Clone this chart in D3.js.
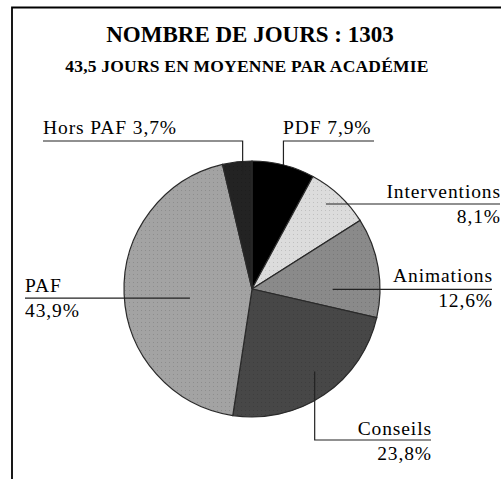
<!DOCTYPE html>
<html>
<head>
<meta charset="utf-8">
<script src="https://cdn.jsdelivr.net/npm/d3@7"></script>
<style>
  body { margin: 0; background: #fff; }
  svg { display: block; font-family: "Liberation Serif", "DejaVu Serif", serif; }
</style>
</head>
<body>
<div id="chart"></div>
<script>
// data, clockwise from 12 o'clock
const categories = ["PDF", "Interventions", "Animations", "Conseils", "PAF", "Hors PAF"];
const shares = [7.9, 8.1, 12.6, 23.8, 43.9, 3.7];
const shareLabels = ["7,9%", "8,1%", "12,6%", "23,8%", "43,9%", "3,7%"];
const fills = ["#000000", "#dcdcdc", "#8a8a8a", "#474747", "#a3a3a3", "#232323"];

const title = "NOMBRE DE JOURS : 1303";
const subtitle = "43,5 JOURS EN MOYENNE PAR ACADÉMIE";

const width = 501, height = 479;
const cx = 252, cy = 289, radius = 128;

const svg = d3.select("#chart").append("svg")
  .attr("width", width)
  .attr("height", height);

// frame (only top and left edges are visible)
svg.append("path")
  .attr("d", `M12,479 V7.5 H501`)
  .attr("fill", "none")
  .attr("stroke", "#000")
  .attr("stroke-width", 1.8);

svg.append("text")
  .attr("x", 250).attr("y", 42)
  .attr("text-anchor", "middle")
  .attr("font-size", 23).attr("font-weight", "bold")
  .text(title);

svg.append("text")
  .attr("x", 247).attr("y", 72)
  .attr("text-anchor", "middle")
  .attr("font-size", 17.5).attr("font-weight", "bold")
  .attr("letter-spacing", 0.2)
  .text(subtitle);

// light texture on the slices
const defs = svg.append("defs");
fills.forEach((c, i) => {
  const p = defs.append("pattern")
    .attr("id", "pat" + i)
    .attr("width", 4).attr("height", 4)
    .attr("patternUnits", "userSpaceOnUse");
  p.append("rect").attr("width", 4).attr("height", 4).attr("fill", c);
  const dot = d3.color(c);
  p.append("rect").attr("x", 1).attr("y", 1).attr("width", 1).attr("height", 1)
    .attr("fill", i === 0 ? c : (dot.l > 0.5 ? dot.brighter(0.3) : dot.darker(0.4)).toString());
});

const data = categories.map((name, i) => ({ name, value: shares[i], label: shareLabels[i], i }));

const pie = d3.pie().value(d => d.value).sort(null);
const arcs = pie(data);
const arc = d3.arc().innerRadius(0).outerRadius(radius);

const g = svg.append("g").attr("transform", `translate(${cx},${cy})`);

g.selectAll("path")
  .data(arcs)
  .join("path")
  .attr("d", arc)
  .attr("fill", d => `url(#pat${d.data.i})`)
  .attr("stroke", "#2a2a2a")
  .attr("stroke-width", 1.2);

// label layout: where the leader enters the slice and where the text sits
const layout = {
  "PDF":           { r: 1.0,  da: 0,   kind: "up",    tx: 283, ty: 141, anchor: "start", w: 91 },
  "Hors PAF":      { r: 0.9,  da: 2,   kind: "up",    tx: 43,  ty: 141, anchor: "start" },
  "Interventions": { r: 0.88, da: -2,  kind: "side",  tx: 500, ty: 203, anchor: "end" },
  "Animations":    { r: 0.63, da: 10,  kind: "side",  tx: 492, ty: 287, anchor: "end" },
  "PAF":           { r: 0.49, da: -6,  kind: "side",  tx: 25,  ty: 297, anchor: "start" },
  "Conseils":      { r: 0.81, da: -3,  kind: "down",  tx: 431, ty: 440, anchor: "end" }
};

const lab = svg.append("g")
  .attr("font-size", 19.5)
  .attr("letter-spacing", 0.9)
  .attr("fill", "#000");

arcs.forEach(a => {
  const L = layout[a.data.name];
  const mid = (a.startAngle + a.endAngle) / 2 + L.da * Math.PI / 180;
  const px = cx + Math.sin(mid) * radius * L.r;
  const py = cy - Math.cos(mid) * radius * L.r;
  let d;
  if (L.kind === "up") {
    const endX = L.w ? L.tx + L.w : L.tx;
    d = `M${px},${py} V${L.ty} H${endX}`;
  } else if (L.kind === "down") {
    d = `M${px},${py} V${L.ty} H${L.tx}`;
  } else {
    d = `M${px},${py} H${L.tx}`;
  }
  lab.append("path")
    .attr("d", d)
    .attr("fill", "none")
    .attr("stroke", "#222")
    .attr("stroke-width", 1.2);

  if (L.kind === "up") {
    lab.append("text").attr("x", L.tx).attr("y", L.ty - 7)
      .attr("text-anchor", L.anchor)
      .text(`${a.data.name} ${a.data.label}`);
  } else {
    const xoff = L.anchor === "end" ? 1 : 0;
    lab.append("text").attr("x", L.tx + xoff).attr("y", L.ty - 5)
      .attr("text-anchor", L.anchor)
      .text(a.data.name);
    lab.append("text").attr("x", L.tx + xoff).attr("y", L.ty + 20)
      .attr("text-anchor", L.anchor)
      .text(a.data.label);
  }
});
</script>
</body>
</html>
